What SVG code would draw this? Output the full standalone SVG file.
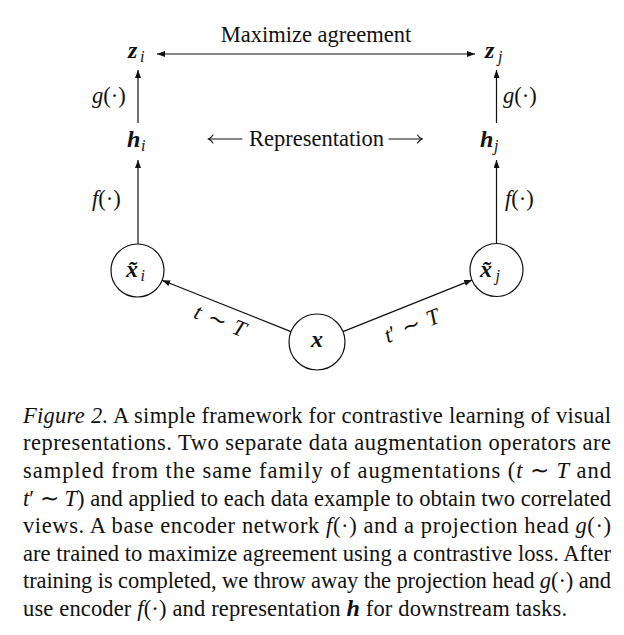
<svg xmlns="http://www.w3.org/2000/svg" width="624" height="635" viewBox="0 0 624 635">
<style>
  text { font-family: "Liberation Serif", "Times New Roman", serif; fill: #111; font-size: 22.5px; }
  .m { font-weight: bold; font-style: italic; font-size: 24px; }
  .it { font-style: italic; }
  .sub { font-style: italic; font-size: 16px; }
  .ln { stroke: #111; stroke-width: 1.2; fill: none; }
  .circ { stroke: #111; stroke-width: 1.2; fill: #fff; }
  .barb { stroke: #111; stroke-width: 1.1; fill: none; stroke-linecap: round; }
</style>
<defs>
  <marker id="ah" markerUnits="userSpaceOnUse" markerWidth="10" markerHeight="8" refX="8" refY="3" orient="auto-start-reverse">
    <path d="M0,0 L8,3 L0,6 z" fill="#111"/>
  </marker>
</defs>
<rect width="624" height="635" fill="#fff"/>

<g id="connectors">
  <line class="ln" x1="157" y1="54" x2="475" y2="54" marker-start="url(#ah)" marker-end="url(#ah)"/>
  <line class="ln" x1="138" y1="123" x2="138" y2="70" marker-end="url(#ah)"/>
  <line class="ln" x1="496.5" y1="123" x2="496.5" y2="70" marker-end="url(#ah)"/>
  <line class="ln" x1="138" y1="244" x2="138" y2="160" marker-end="url(#ah)"/>
  <line class="ln" x1="496.5" y1="243.5" x2="496.5" y2="160" marker-end="url(#ah)"/>
  <line class="ln" x1="291" y1="331.6" x2="162.1" y2="280.3" marker-end="url(#ah)"/>
  <line class="ln" x1="343" y1="331.6" x2="472.2" y2="279.9" marker-end="url(#ah)"/>
</g>

<g id="labels">
  <text x="316" y="42" text-anchor="middle">Maximize agreement</text>
  <text x="92" y="103"><tspan class="it">g</tspan>(·)</text>
  <text x="503" y="103"><tspan class="it">g</tspan>(·)</text>
  <text x="92" y="206"><tspan class="it">f</tspan>(·)</text>
  <text x="505" y="206"><tspan class="it">f</tspan>(·)</text>
  <g id="representation">
    <line class="barb" x1="208.5" y1="139" x2="242" y2="139"/>
    <path class="barb" d="M213,135 Q211,138 208.5,139 Q211,140 213,143"/>
    <text x="249" y="146">Representation</text>
    <line class="barb" x1="389" y1="139" x2="422" y2="139"/>
    <path class="barb" d="M417.5,135 Q419.5,138 422,139 Q419.5,140 417.5,143"/>
  </g>
  <text transform="translate(220,321) rotate(21.7)" y="7" text-anchor="middle" font-size="23"><tspan class="it">t</tspan><tspan dx="8">∼</tspan><tspan class="it" dx="8">T</tspan></text>
  <text transform="translate(412,326) rotate(-21.8)" y="7" text-anchor="middle" font-size="23"><tspan class="it">t</tspan>′<tspan dx="7">∼</tspan><tspan class="it" dx="8">T</tspan></text>
</g>

<g id="node-zi">
  <text class="m" x="128" y="58">z</text><text class="sub" x="140" y="62">i</text>
</g>
<g id="node-zj">
  <text class="m" x="485" y="58">z</text><text class="sub" x="498" y="62">j</text>
</g>
<g id="node-hi">
  <text class="m" x="127" y="147">h</text><text class="sub" x="141" y="151">i</text>
</g>
<g id="node-hj">
  <text class="m" x="480" y="147">h</text><text class="sub" x="494" y="151">j</text>
</g>
<g id="node-xi">
  <circle class="circ" cx="137.5" cy="270.5" r="26.5"/>
  <text class="m" x="126" y="277">x̃</text>
  <text class="sub" x="140.5" y="281">i</text>
</g>
<g id="node-xj">
  <circle class="circ" cx="496.5" cy="270" r="26.5"/>
  <text class="m" x="480" y="277">x̃</text>
  <text class="sub" x="495.5" y="281">j</text>
</g>
<g id="node-x">
  <circle class="circ" cx="317" cy="342" r="28"/>
  <text class="m" x="311" y="347">x</text>
</g>

<g id="caption">
  <text x="23" y="422.7" textLength="588" lengthAdjust="spacing"><tspan class="it">Figure 2.</tspan> A simple framework for contrastive learning of visual</text>
  <text x="23" y="450.3" textLength="588" lengthAdjust="spacing">representations.  Two separate data augmentation operators are</text>
  <text x="23" y="477.9" textLength="588" lengthAdjust="spacing">sampled from the same family of augmentations (<tspan class="it">t</tspan> ∼ <tspan class="it">T</tspan> and</text>
  <text x="23" y="505.5" textLength="588" lengthAdjust="spacing"><tspan class="it">t</tspan>′ ∼ <tspan class="it">T</tspan>) and applied to each data example to obtain two correlated</text>
  <text x="23" y="533.1" textLength="588" lengthAdjust="spacing">views.  A base encoder network <tspan class="it">f</tspan>(·) and a projection head <tspan class="it">g</tspan>(·)</text>
  <text x="23" y="560.7" textLength="588" lengthAdjust="spacing">are trained to maximize agreement using a contrastive loss. After</text>
  <text x="23" y="588.3" textLength="588" lengthAdjust="spacing">training is completed, we throw away the projection head <tspan class="it">g</tspan>(·) and</text>
  <text x="23" y="615.9" textLength="544" lengthAdjust="spacing">use encoder <tspan class="it">f</tspan>(·) and representation <tspan class="m" font-size="22.5px">h</tspan> for downstream tasks.</text>
</g>
</svg>
